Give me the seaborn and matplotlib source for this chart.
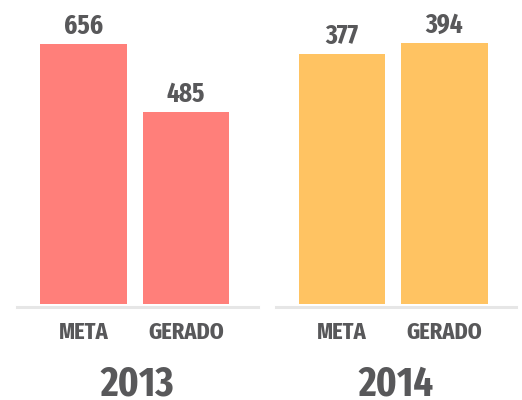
import matplotlib
matplotlib.use("Agg")
import matplotlib.pyplot as plt
import seaborn as sns
import pandas as pd

# Data
categories = ["META", "GERADO"]
years = ["2013", "2014"]
values_2013 = [656, 485]
values_2014 = [377, 394]
colors = {"2013": "#FF7F7A", "2014": "#FFC362"}

sns.set_theme(style="white")
plt.rcParams["font.family"] = ["Fira Sans Extra Condensed", "Roboto Condensed",
                               "PT Sans Narrow", "DejaVu Sans"]
plt.rcParams["font.weight"] = "bold"

text_color = "#58585A"
line_color = "#E6E6E6"

fig = plt.figure(figsize=(5.22, 4.0), dpi=100)
W, H = 522, 400

# axes rectangles in pixels: (left, right) and vertical scale (px per unit)
panels = [
    ("2013", values_2013, (17, 258), 0.40),
    ("2014", values_2014, (276, 516), 0.668),
]
base_px = 306.5  # y of baseline (from top)

for year, vals, (x0, x1), px_per_unit in panels:
    ax = fig.add_axes([x0 / W, 1 - base_px / H, (x1 - x0) / W, base_px / H])
    df = pd.DataFrame({"categoria": categories, "valor": vals})
    sns.barplot(data=df, x="categoria", y="valor", color=colors[year],
                width=0.843, saturation=1, linewidth=0, ax=ax, zorder=3)
    unit_per_px = 1 / px_per_unit
    ax.set_ylim(-2.5 * unit_per_px, base_px * unit_per_px)
    ax.set_xlim(-0.647, 1.70)
    for c in ax.containers:
        ax.bar_label(c, labels=[str(v) for v in vals], padding=3,
                     fontsize=19.5, fontweight="bold", color=text_color)
    for side in ["left", "right", "top"]:
        ax.spines[side].set_visible(False)
    ax.spines["bottom"].set_color(line_color)
    ax.spines["bottom"].set_linewidth(2.2)
    ax.spines["bottom"].set_zorder(1)
    ax.set_yticks([])
    ax.set_ylabel("")
    ax.set_xlabel("")
    ax.tick_params(axis="x", length=0, pad=10, labelsize=17.5, labelcolor=text_color)
    for t in ax.get_xticklabels():
        t.set_fontweight("bold")
    ax.text(0.5, -(396 - base_px) / base_px, year, transform=ax.transAxes,
            ha="center", va="baseline", fontsize=30, fontweight="bold",
            color=text_color)

fig.savefig("out.png", dpi=100)
